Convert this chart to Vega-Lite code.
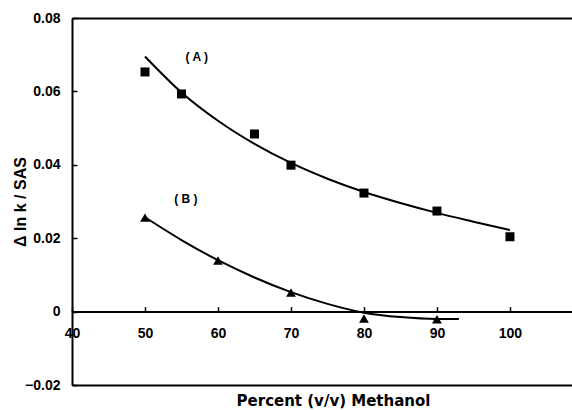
{
  "$schema": "https://vega.github.io/schema/vega-lite/v6.json",
  "width": 500,
  "height": 367,
  "autosize": {"type": "none"},
  "padding": {"left": 72, "top": 18, "right": 0, "bottom": 25},
  "background": "white",
  "config": {
    "view": {"stroke": null},
    "font": "Liberation Sans",
    "axis": {"grid": false, "domainColor": "black", "tickColor": "black", "labelColor": "black", "titleColor": "black", "labelFont": "Liberation Sans", "titleFont": "Liberation Sans"}
  },
  "datasets": {
    "curveA": [
      {"pct": 50, "v": 0.0695}, {"pct": 55, "v": 0.0597}, {"pct": 60, "v": 0.052}, {"pct": 65, "v": 0.0457},
      {"pct": 70, "v": 0.0405}, {"pct": 75, "v": 0.0362}, {"pct": 80, "v": 0.0326}, {"pct": 85, "v": 0.0296},
      {"pct": 90, "v": 0.0269}, {"pct": 95, "v": 0.0245}, {"pct": 100, "v": 0.0222}
    ],
    "curveB": [
      {"pct": 50, "v": 0.0257}, {"pct": 55, "v": 0.0195}, {"pct": 60, "v": 0.014}, {"pct": 65, "v": 0.0093},
      {"pct": 70, "v": 0.0053}, {"pct": 75, "v": 0.0021}, {"pct": 80, "v": -0.0003}, {"pct": 85, "v": -0.0015},
      {"pct": 90, "v": -0.002}, {"pct": 93, "v": -0.002}
    ],
    "ptsA": [
      {"pct": 50, "v": 0.0653}, {"pct": 55, "v": 0.0593}, {"pct": 65, "v": 0.0484}, {"pct": 70, "v": 0.0399},
      {"pct": 80, "v": 0.0323}, {"pct": 90, "v": 0.0274}, {"pct": 100, "v": 0.0204}
    ],
    "ptsB": [
      {"pct": 50, "v": 0.0256}, {"pct": 60, "v": 0.0139}, {"pct": 70, "v": 0.0052}, {"pct": 80, "v": -0.0019}, {"pct": 90, "v": -0.0021}
    ],
    "labels": [
      {"pct": 57.1, "v": 0.0694, "t": "( A )"},
      {"pct": 55.6, "v": 0.0308, "t": "( B )"}
    ]
  },
  "resolve": {"axis": {"x": "independent"}},
  "encoding": {
    "y": {"field": "v", "type": "quantitative", "scale": {"domain": [-0.02, 0.08], "nice": false, "zero": false},
      "axis": {"orient": "left", "values": [-0.02, 0, 0.02, 0.04, 0.06, 0.08], "labelExpr": "datum.value == 0 ? '0' : format(datum.value, '.2f')",
        "domainWidth": 2, "tickSize": -5, "tickWidth": 1.5, "labelFontSize": 14, "labelFontWeight": "bold", "labelPadding": 17,
        "title": "Δ ln k / SAS", "titleFontSize": 16, "titleFontWeight": "bold", "titlePadding": -4}}
  },
  "layer": [
    {
      "data": {"name": "curveA"},
      "mark": {"type": "line", "color": "black", "strokeWidth": 2, "interpolate": "monotone"},
      "encoding": {
        "x": {"field": "pct", "type": "quantitative", "scale": {"domain": [40, 108.5], "nice": false, "zero": false},
          "axis": {"orient": "bottom", "offset": -73.4, "title": null, "values": [40, 50, 60, 70, 80, 90, 100],
            "domainWidth": 2, "tickSize": -5, "tickWidth": 1.5, "labelFontSize": 14, "labelFontWeight": "bold", "labelPadding": 20, "labelFlush": false}}
      }
    },
    {
      "data": {"name": "curveB"},
      "mark": {"type": "line", "color": "black", "strokeWidth": 2, "interpolate": "monotone"},
      "encoding": {
        "x": {"field": "pct", "type": "quantitative", "scale": {"domain": [40, 108.5], "nice": false, "zero": false},
          "axis": {"orient": "top", "title": null, "labels": false, "ticks": false, "domainWidth": 2}}
      }
    },
    {
      "data": {"name": "ptsA"},
      "mark": {"type": "square", "color": "black", "opacity": 1, "size": 81},
      "encoding": {
        "x": {"field": "pct", "type": "quantitative", "scale": {"domain": [40, 108.5], "nice": false, "zero": false},
          "axis": {"orient": "bottom", "labels": false, "ticks": false, "domainWidth": 2,
            "title": "Percent (v/v) Methanol", "titleFont": "DejaVu Sans", "titleFontSize": 15, "titleFontWeight": "bold", "titlePadding": 8, "titleX": 261}}
      }
    },
    {
      "data": {"name": "ptsB"},
      "mark": {"type": "point", "shape": "triangle-up", "filled": true, "color": "black", "opacity": 1, "size": 95},
      "encoding": {
        "x": {"field": "pct", "type": "quantitative", "axis": null}
      }
    },
    {
      "data": {"name": "labels"},
      "mark": {"type": "text", "fontSize": 12, "fontWeight": "bold", "color": "black"},
      "encoding": {
        "x": {"field": "pct", "type": "quantitative", "axis": null},
        "text": {"field": "t"}
      }
    }
  ]
}
